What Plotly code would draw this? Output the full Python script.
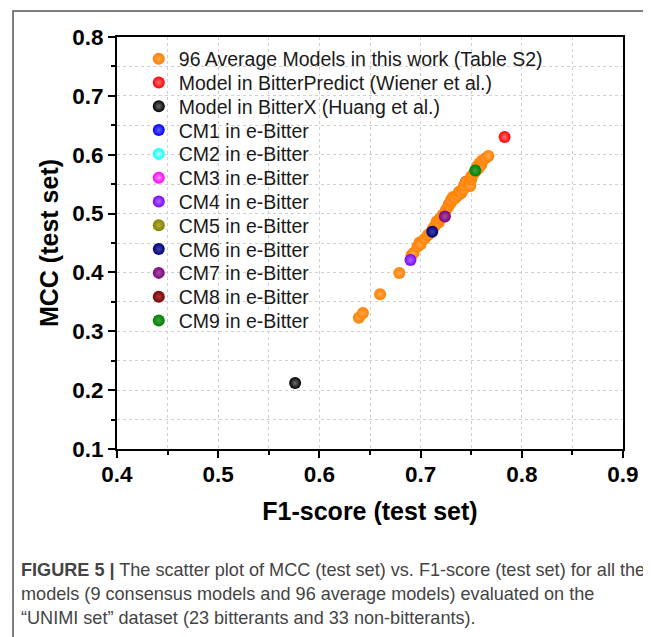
import plotly.graph_objects as go

# ---- data ----
avg_f1 = [0.639, 0.643, 0.660, 0.679, 0.691, 0.693, 0.697, 0.699, 0.700, 0.704,
          0.707, 0.709, 0.712, 0.714, 0.716, 0.718, 0.719, 0.721, 0.722, 0.724,
          0.725, 0.727, 0.728, 0.730, 0.730, 0.732, 0.734, 0.737, 0.738, 0.740,
          0.742, 0.743, 0.745, 0.748, 0.749, 0.750, 0.750, 0.752, 0.754, 0.756,
          0.757, 0.758, 0.760, 0.761, 0.764, 0.767]
avg_mcc = [0.323, 0.331, 0.363, 0.399, 0.429, 0.433, 0.444, 0.451, 0.448, 0.457,
           0.463, 0.466, 0.474, 0.479, 0.487, 0.485, 0.491, 0.494, 0.498, 0.501,
           0.506, 0.511, 0.515, 0.519, 0.523, 0.528, 0.526, 0.531, 0.537, 0.535,
           0.540, 0.548, 0.554, 0.551, 0.547, 0.558, 0.563, 0.567, 0.571, 0.580,
           0.576, 0.585, 0.583, 0.590, 0.594, 0.598]

other_names = ["Model in BitterPredict (Wiener et al.)", "Model in BitterX (Huang et al.)",
               "CM1 in e-Bitter", "CM2 in e-Bitter", "CM3 in e-Bitter", "CM4 in e-Bitter",
               "CM5 in e-Bitter", "CM6 in e-Bitter", "CM7 in e-Bitter", "CM8 in e-Bitter",
               "CM9 in e-Bitter"]
other_f1 = [0.783, 0.576, 0.745, 0.737, 0.740, 0.690, 0.719, 0.7115, 0.724, 0.728, 0.754]
other_mcc = [0.630, 0.212, 0.554, 0.531, 0.535, 0.421, 0.491, 0.469, 0.495, 0.515, 0.573]
other_colors = ["#ff0000", "#000000", "#0000ff", "#00ffff", "#ff00ff", "#8000ff",
                "#808000", "#000080", "#800080", "#800000", "#008000"]
other_hi = ["#ff7070", "#707070", "#6060ff", "#c0ffff", "#ff90ff", "#a070ff",
            "#b0b040", "#4040a0", "#a050a0", "#a04040", "#40a040"]

x_ticks = [0.4, 0.5, 0.6, 0.7, 0.8, 0.9]
y_ticks = [0.1, 0.2, 0.3, 0.4, 0.5, 0.6, 0.7, 0.8]

# page offset (browser body margin) compensation
OFF = 8
W, H = 651 - OFF, 637 - OFF
PX0, PX1 = 117 - OFF, 628 - OFF      # plot left/right in figure px
PY0, PY1 = 37 - OFF, 449 - OFF       # plot top/bottom in figure px
PW, PH = PX1 - PX0, PY1 - PY0


def px_x(px):
    return (px - OFF - PX0) / PW


def px_y(py):
    return (PY1 - (py - OFF)) / PH


fig = go.Figure()
legend_font = dict(family="Liberation Sans, Arial", size=19.5, color="#1a1a1a")
legend_layouts = {}


def legend_key(k):
    return "legend" if k == 0 else f"legend{k+1}"


def add(i_row, name, x, y, color, hi):
    key = legend_key(i_row)
    fig.add_trace(go.Scatter(
        x=x, y=y, mode="markers", name=name, legend=key,
        marker=dict(color=color, size=12, line=dict(width=0),
                    gradient=dict(type="radial", color=hi))))
    legend_layouts[key] = dict(
        x=px_x(139), y=px_y(59 + 23.8 * i_row), xanchor="left", yanchor="middle",
        bgcolor="rgba(0,0,0,0)", font=legend_font, itemsizing="constant")


# hidden-behind points first (drawn under orange)
draw_first = [2, 3, 4, 6, 9]
for i in draw_first:
    add(i + 1, other_names[i], [other_f1[i]], [other_mcc[i]], other_colors[i], other_hi[i])

add(0, "96 Average Models in this work (Table S2)", avg_f1, avg_mcc, "#ff8000", "#ffa850")

for i in range(len(other_names)):
    if i in draw_first:
        continue
    add(i + 1, other_names[i], [other_f1[i]], [other_mcc[i]], other_colors[i], other_hi[i])

axis_common = dict(
    showline=True, linecolor="black", linewidth=2, mirror=True,
    ticks="outside", ticklen=7, tickwidth=1.5, tickcolor="black",
    showgrid=True, gridcolor="#d0d0d0", griddash="dot", gridwidth=1,
    zeroline=False,
    tickfont=dict(family="Liberation Sans, Arial", size=22.5, color="black", weight="bold"),
    minor=dict(ticks="outside", ticklen=4, tickwidth=1.5, tickcolor="black",
               showgrid=True, gridcolor="#d0d0d0", griddash="dot", gridwidth=1),
)

title_font = dict(family="Liberation Sans, Arial", size=25, color="black", weight="bold")
fig.update_xaxes(range=[0.4, 0.9], tickvals=x_ticks, ticktext=[f"{v:.1f}" for v in x_ticks],
                 minor_dtick=0.05, minor_tick0=0.4, ticklabelstandoff=-3,
                 title=dict(text="F1-score (test set)", standoff=16, font=title_font),
                 **axis_common)
fig.update_yaxes(range=[0.1, 0.8], tickvals=y_ticks, ticktext=[f"{v:.1f}" for v in y_ticks],
                 minor_dtick=0.05, minor_tick0=0.1,
                 title=dict(text="MCC (test set)", standoff=6, font=title_font),
                 **axis_common)

caption_font = dict(family="Liberation Sans, Arial", size=18.1, color="#444444")
cap_lines = [
    "<b>FIGURE 5 |</b> The scatter plot of MCC (test set) vs. F1-score (test set) for all the",
    "models (9 consensus models and 96 average models) evaluated on the",
    "\u201cUNIMI set\u201d dataset (23 bitterants and 33 non-bitterants).",
]
cap_y = [570, 594, 618]
annotations = []
for t, py in zip(cap_lines, cap_y):
    annotations.append(dict(text=t, xref="paper", yref="paper", x=px_x(18),
                            y=px_y(py), xanchor="left", yanchor="middle",
                            showarrow=False, font=caption_font, align="left"))

fig.update_layout(
    width=W, height=H,
    margin=dict(l=PX0, r=W - PX1, t=PY0, b=H - PY1),
    plot_bgcolor="white", paper_bgcolor="white",
    showlegend=True,
    annotations=annotations,
    shapes=[dict(type="rect", xref="paper", yref="paper",
                 x0=px_x(12), x1=px_x(720),
                 y0=px_y(720), y1=px_y(11),
                 line=dict(color="#555555", width=1.5), layer="below")],
    **legend_layouts,
)

fig.write_html("out.html")
